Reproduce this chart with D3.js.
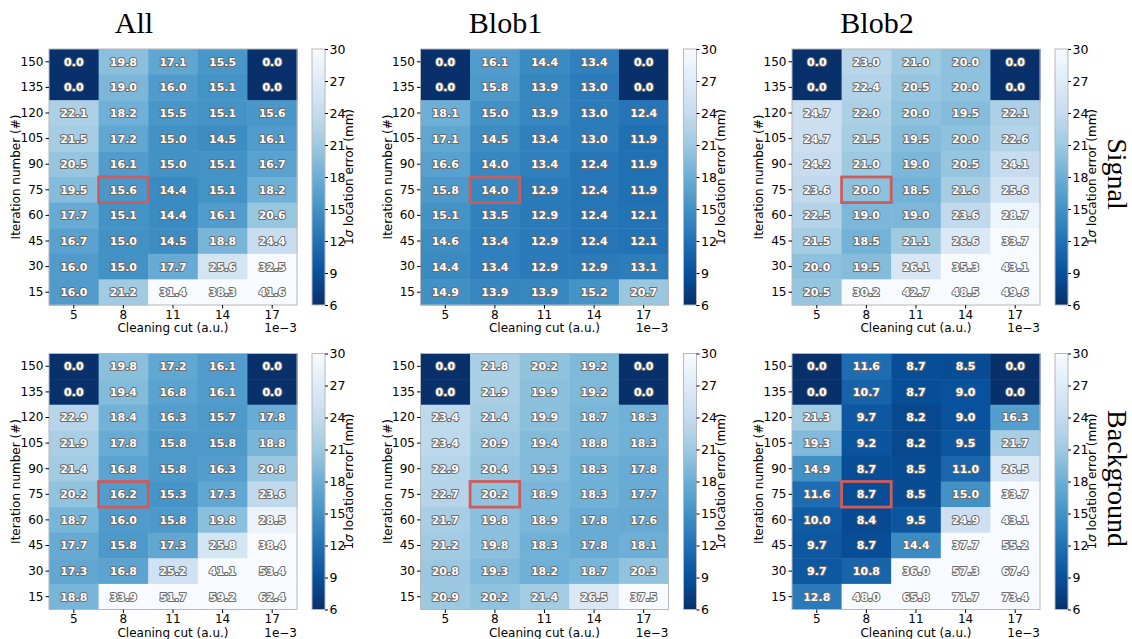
<!DOCTYPE html>
<html><head><meta charset="utf-8">
<script src="https://cdn.jsdelivr.net/npm/d3@7"></script>
<style>
html,body{margin:0;padding:0;background:#fff;}
svg{display:block;}
text{font-family:"DejaVu Sans",sans-serif;}
</style></head>
<body><svg id="chart" width="1132" height="639"></svg>
<script>
// ---- data ----
const cuts = [5, 8, 11, 14, 17];
const iterations = [150, 135, 120, 105, 90, 75, 60, 45, 30, 15];
const columnTitles = ["All", "Blob1", "Blob2"];
const rowTitles = ["Signal", "Background"];
const colorbarTicks = [6, 9, 12, 15, 18, 21, 24, 27, 30];
const bestCut = 8, bestIteration = 75;

const allSignal = [
  [0.0, 19.8, 17.1, 15.5, 0.0],
  [0.0, 19.0, 16.0, 15.1, 0.0],
  [22.1, 18.2, 15.5, 15.1, 15.6],
  [21.5, 17.2, 15.0, 14.5, 16.1],
  [20.5, 16.1, 15.0, 15.1, 16.7],
  [19.5, 15.6, 14.4, 15.1, 18.2],
  [17.7, 15.1, 14.4, 16.1, 20.6],
  [16.7, 15.0, 14.5, 18.8, 24.4],
  [16.0, 15.0, 17.7, 25.6, 32.5],
  [16.0, 21.2, 31.4, 38.3, 41.6]
];
const blob1Signal = [
  [0.0, 16.1, 14.4, 13.4, 0.0],
  [0.0, 15.8, 13.9, 13.0, 0.0],
  [18.1, 15.0, 13.9, 13.0, 12.4],
  [17.1, 14.5, 13.4, 13.0, 11.9],
  [16.6, 14.0, 13.4, 12.4, 11.9],
  [15.8, 14.0, 12.9, 12.4, 11.9],
  [15.1, 13.5, 12.9, 12.4, 12.1],
  [14.6, 13.4, 12.9, 12.4, 12.1],
  [14.4, 13.4, 12.9, 12.9, 13.1],
  [14.9, 13.9, 13.9, 15.2, 20.7]
];
const blob2Signal = [
  [0.0, 23.0, 21.0, 20.0, 0.0],
  [0.0, 22.4, 20.5, 20.0, 0.0],
  [24.7, 22.0, 20.0, 19.5, 22.1],
  [24.7, 21.5, 19.5, 20.0, 22.6],
  [24.2, 21.0, 19.0, 20.5, 24.1],
  [23.6, 20.0, 18.5, 21.6, 25.6],
  [22.5, 19.0, 19.0, 23.6, 28.7],
  [21.5, 18.5, 21.1, 26.6, 33.7],
  [20.0, 19.5, 26.1, 35.3, 43.1],
  [20.5, 30.2, 42.7, 48.5, 49.6]
];
const allBackground = [
  [0.0, 19.8, 17.2, 16.1, 0.0],
  [0.0, 19.4, 16.8, 16.1, 0.0],
  [22.9, 18.4, 16.3, 15.7, 17.8],
  [21.9, 17.8, 15.8, 15.8, 18.8],
  [21.4, 16.8, 15.8, 16.3, 20.8],
  [20.2, 16.2, 15.3, 17.3, 23.6],
  [18.7, 16.0, 15.8, 19.8, 28.5],
  [17.7, 15.8, 17.3, 25.8, 38.4],
  [17.3, 16.8, 25.2, 41.1, 53.4],
  [18.8, 33.9, 51.7, 59.2, 62.4]
];
const blob1Background = [
  [0.0, 21.8, 20.2, 19.2, 0.0],
  [0.0, 21.9, 19.9, 19.2, 0.0],
  [23.4, 21.4, 19.9, 18.7, 18.3],
  [23.4, 20.9, 19.4, 18.8, 18.3],
  [22.9, 20.4, 19.3, 18.3, 17.8],
  [22.7, 20.2, 18.9, 18.3, 17.7],
  [21.7, 19.8, 18.9, 17.8, 17.6],
  [21.2, 19.8, 18.3, 17.8, 18.1],
  [20.8, 19.3, 18.2, 18.7, 20.3],
  [20.9, 20.2, 21.4, 26.5, 37.5]
];
const blob2Background = [
  [0.0, 11.6, 8.7, 8.5, 0.0],
  [0.0, 10.7, 8.7, 9.0, 0.0],
  [21.3, 9.7, 8.2, 9.0, 16.3],
  [19.3, 9.2, 8.2, 9.5, 21.7],
  [14.9, 8.7, 8.5, 11.0, 26.5],
  [11.6, 8.7, 8.5, 15.0, 33.7],
  [10.0, 8.4, 9.5, 24.9, 43.1],
  [9.7, 8.7, 14.4, 37.7, 55.2],
  [9.7, 10.8, 36.0, 57.3, 67.4],
  [12.8, 48.0, 65.8, 71.7, 73.4]
];
const panels = [
  [allSignal, blob1Signal, blob2Signal],
  [allBackground, blob1Background, blob2Background]
];

// ---- layout ----
const panelLefts = [49, 420.5, 792];
const panelTops = [49, 353.5];
const W = 248, H = 256;
const cbGap = 15, cbW = 13;

const blues = ["#08306b","#08519c","#2171b5","#4292c6","#6baed6","#9ecae1","#c6dbef","#deebf7","#f7fbff"];
const color = d3.scaleLinear()
  .domain(blues.map((_, i) => 6 + i * 24 / (blues.length - 1)))
  .range(blues).clamp(true);

const svg = d3.select("#chart");
const defs = svg.append("defs");
const grad = defs.append("linearGradient").attr("id", "cbgrad")
  .attr("x1", 0).attr("y1", 1).attr("x2", 0).attr("y2", 0);
d3.range(6, 30.01, 0.5).forEach(v => {
  grad.append("stop").attr("offset", (v - 6) / 24).attr("stop-color", color(v));
});

const x = d3.scaleBand().domain(cuts).range([0, W]);
const y = d3.scaleBand().domain(iterations).range([0, H]);
const cbScale = d3.scaleLinear().domain([6, 30]).range([H, 0]);

rowTitles.forEach((rt, r) => {
  columnTitles.forEach((ct, c) => {
    const data = panels[r][c];
    const g = svg.append("g").attr("transform", `translate(${panelLefts[c]},${panelTops[r]})`);
    const cells = [];
    iterations.forEach((it, i) => cuts.forEach((cu, j) => cells.push({it, cu, v: data[i][j]})));

    g.selectAll("rect.cell").data(cells).enter().append("rect")
      .attr("class", "cell")
      .attr("x", d => x(d.cu)).attr("y", d => y(d.it))
      .attr("width", x.bandwidth() + 0.5).attr("height", y.bandwidth() + 0.5)
      .attr("fill", d => color(d.v));

    g.selectAll("text.ann").data(cells).enter().append("text")
      .attr("class", "ann")
      .attr("x", d => x(d.cu) + x.bandwidth() / 2)
      .attr("y", d => y(d.it) + y.bandwidth() / 2)
      .attr("dy", "0.36em")
      .attr("text-anchor", "middle")
      .style("font-size", "11px").style("font-weight", "bold")
      .style("fill", "#fff").style("stroke", "#6a6a6a").style("stroke-width", 2)
      .style("paint-order", "stroke").style("stroke-linejoin", "round")
      .text(d => d.v.toFixed(1));

    // highlight
    g.append("rect")
      .attr("x", x(bestCut)).attr("y", y(bestIteration))
      .attr("width", x.bandwidth()).attr("height", y.bandwidth())
      .attr("fill", "none").attr("stroke", "#cd5c5c").attr("stroke-width", 2.8);

    // frame
    g.append("rect").attr("x", 0).attr("y", 0).attr("width", W).attr("height", H)
      .attr("fill", "none").attr("stroke", "#b8b8b8").attr("stroke-width", 1);

    // axes
    const xAxis = g.append("g").attr("transform", `translate(0,${H})`)
      .call(d3.axisBottom(x).tickSize(3.5).tickPadding(1.5).tickFormat(d => d));
    const yAxis = g.append("g")
      .call(d3.axisLeft(y).tickSize(3.5).tickPadding(2).tickFormat(d => d));
    [xAxis, yAxis].forEach(a => {
      a.select(".domain").remove();
      a.selectAll("text").style("font-size", "12px").style("font-family", "DejaVu Sans").attr("fill", "#000");
      a.selectAll("line").attr("stroke", "#000");
    });

    g.append("text").attr("x", W / 2).attr("y", H + 27)
      .attr("text-anchor", "middle").style("font-size", "12px").text("Cleaning cut (a.u.)");
    g.append("text").attr("x", W).attr("y", H + 27)
      .attr("text-anchor", "end").style("font-size", "12px").text("1e\u22123");
    g.append("text").attr("transform", `translate(-29,${H / 2}) rotate(-90)`)
      .attr("text-anchor", "middle").style("font-size", "12px").text("Iteration number (#)");

    // colorbar
    const cb = g.append("g").attr("transform", `translate(${W + cbGap},0)`);
    cb.append("rect").attr("width", cbW).attr("height", H).attr("fill", "url(#cbgrad)")
      .attr("stroke", "#b8b8b8").attr("stroke-width", 1);
    const cbAxis = cb.append("g").attr("transform", `translate(${cbW},0)`)
      .call(d3.axisRight(cbScale).tickValues(colorbarTicks).tickSize(3).tickPadding(1.5));
    cbAxis.select(".domain").remove();
    cbAxis.selectAll("text").style("font-size", "12.5px").style("font-family", "DejaVu Sans").attr("fill", "#000");
    cbAxis.selectAll("line").attr("stroke", "#000");
    const lbl = cb.append("text").attr("transform", `translate(${cbW + 28},${H / 2}) rotate(-90)`)
      .attr("text-anchor", "middle").style("font-size", "12px");
    lbl.append("tspan").text("1");
    lbl.append("tspan").style("font-style", "italic").text("\u03c3");
    lbl.append("tspan").text(" location error (mm)");

    if (r === 0) {
      g.append("text").attr("x", 85).attr("y", 33 - panelTops[0])
        .attr("text-anchor", "middle")
        .style("font-family", "Liberation Serif, serif").style("font-size", "30px")
        .text(ct);
    }
    if (c === 2) {
      g.append("text").attr("transform", `translate(${1108 - panelLefts[2]},${H / 2 - 3}) rotate(90)`)
        .attr("text-anchor", "middle")
        .style("font-family", "Liberation Serif, serif").style("font-size", "28px")
        .text(rt);
    }
  });
});
</script></body></html>
